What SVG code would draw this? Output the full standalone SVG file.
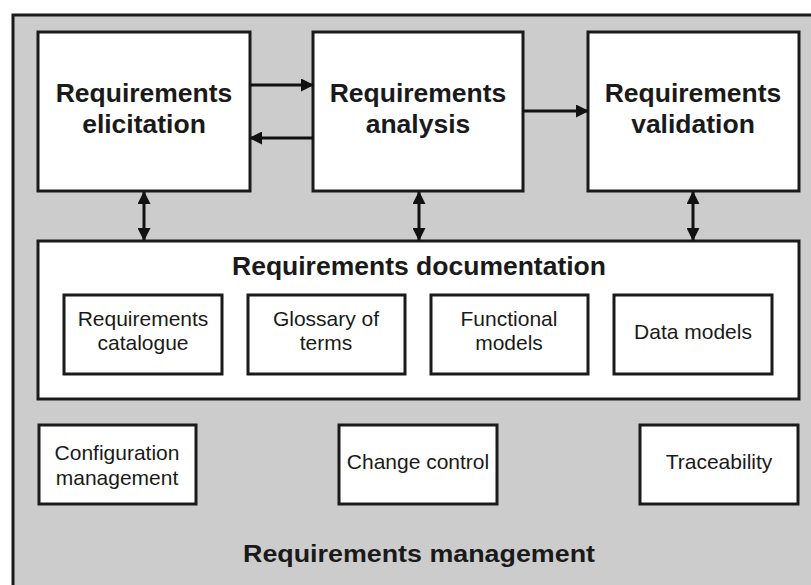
<svg xmlns="http://www.w3.org/2000/svg" width="811" height="585" viewBox="0 0 811 585">
<style>
.box{fill:#fff;stroke:#1a1a1a;stroke-width:3}
.t1{font-family:"Liberation Sans",Arial,sans-serif;font-weight:bold;font-size:26.5px;fill:#1a1a1a;text-anchor:middle}
.t2{font-family:"Liberation Sans",Arial,sans-serif;font-size:21px;fill:#1a1a1a;text-anchor:middle}
.c{stroke:#111;stroke-width:3;fill:none}
</style>
<defs>
<marker id="ah" markerUnits="userSpaceOnUse" markerWidth="13" markerHeight="13" viewBox="0 0 13 13" refX="12" refY="6.5" orient="auto-start-reverse">
<path d="M0,0 L13,6.5 L0,13 z" fill="#111"/>
</marker>
</defs>
<rect width="811" height="585" fill="#fff"/>
<rect id="frame" x="13" y="15" width="820" height="600" fill="#cccccc" stroke="#1a1a1a" stroke-width="3"/>
<g id="elicitation">
<rect class="box" x="38" y="32" width="212" height="159"/>
<text class="t1" x="144" y="102">Requirements</text>
<text class="t1" x="144" y="133">elicitation</text>
</g>
<g id="analysis">
<rect class="box" x="313" y="32" width="210" height="159"/>
<text class="t1" x="418" y="102">Requirements</text>
<text class="t1" x="418" y="133">analysis</text>
</g>
<g id="validation">
<rect class="box" x="588" y="32" width="211" height="159"/>
<text class="t1" x="693" y="102">Requirements</text>
<text class="t1" x="693" y="133">validation</text>
</g>
<g id="documentation">
<rect class="box" x="38" y="241" width="761" height="158"/>
<text class="t1" x="419" y="275">Requirements documentation</text>
</g>
<g id="catalogue">
<rect class="box" x="64" y="295" width="158" height="79"/>
<text class="t2" x="143" y="326">Requirements</text>
<text class="t2" x="143" y="350">catalogue</text>
</g>
<g id="glossary">
<rect class="box" x="248" y="295" width="157" height="79"/>
<text class="t2" x="326" y="326">Glossary of</text>
<text class="t2" x="326" y="350">terms</text>
</g>
<g id="functional">
<rect class="box" x="431" y="295" width="157" height="79"/>
<text class="t2" x="509" y="326">Functional</text>
<text class="t2" x="509" y="350">models</text>
</g>
<g id="datamodels">
<rect class="box" x="614" y="295" width="158" height="79"/>
<text class="t2" x="693" y="339">Data models</text>
</g>
<g id="configuration">
<rect class="box" x="39" y="425" width="157" height="79"/>
<text class="t2" x="117" y="460">Configuration</text>
<text class="t2" x="117" y="485">management</text>
</g>
<g id="changecontrol">
<rect class="box" x="339" y="425" width="158" height="79"/>
<text class="t2" x="418" y="469">Change control</text>
</g>
<g id="traceability">
<rect class="box" x="640" y="425" width="158" height="79"/>
<text class="t2" x="719" y="469">Traceability</text>
</g>
<g id="management">
<text class="t1" x="419" y="562" style="font-size:23px" textLength="352" lengthAdjust="spacingAndGlyphs">Requirements management</text>
</g>
<g id="connectors">
<line class="c" x1="250" y1="85" x2="313" y2="85" marker-end="url(#ah)"/>
<line class="c" x1="313" y1="138" x2="250" y2="138" marker-end="url(#ah)"/>
<line class="c" x1="523" y1="111" x2="588" y2="111" marker-end="url(#ah)"/>
<line class="c" x1="144" y1="192" x2="144" y2="240" marker-start="url(#ah)" marker-end="url(#ah)"/>
<line class="c" x1="419" y1="192" x2="419" y2="240" marker-start="url(#ah)" marker-end="url(#ah)"/>
<line class="c" x1="693" y1="192" x2="693" y2="240" marker-start="url(#ah)" marker-end="url(#ah)"/>
</g>
</svg>
